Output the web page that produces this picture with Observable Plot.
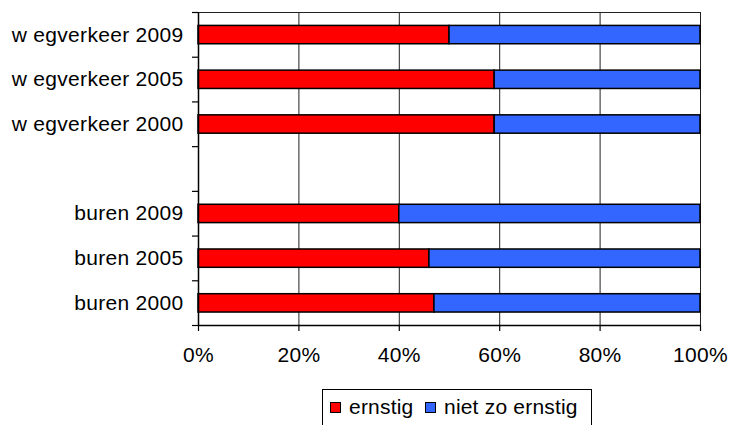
<!DOCTYPE html>
<html>
<head>
<meta charset="utf-8">
<script src="https://cdn.jsdelivr.net/npm/d3@7"></script>
<script src="https://cdn.jsdelivr.net/npm/@observablehq/plot@0.6"></script>
<style>
  html, body { margin: 0; padding: 0; background: #fff; overflow: hidden; }
  #wrap { position: relative; width: 729px; height: 425px; font-family: "Liberation Sans", Arial, sans-serif; }
  #legend { position: absolute; left: 322px; top: 389px; width: 270px; height: 40px; border: 1px solid #000; background: #fff; box-sizing: border-box; font-size: 21px; letter-spacing: 0.2px; color: #000; }
  .item { position: absolute; top: 5px; white-space: nowrap; }
  .sw { display: inline-block; width: 9px; height: 9px; border: 1.5px solid #000; margin-right: 8px; vertical-align: 1px; }
</style>
</head>
<body>
<div id="wrap"><div id="chart"></div><div id="legend"></div></div>
<script>
const categories = ["w egverkeer 2009", "w egverkeer 2005", "w egverkeer 2000", "", "buren 2009", "buren 2005", "buren 2000"];
const ernstig = [50, 59, 59, null, 40, 46, 47];
const nietZoErnstig = [50, 41, 41, null, 60, 54, 53];
const xTicks = [0, 20, 40, 60, 80, 100];
const seriesNames = ["ernstig", "niet zo ernstig"];
const seriesColors = ["#FF0000", "#3366FF"];

const rows = categories.map((c, i) => ({cat: c, i, e: ernstig[i], n: nietZoErnstig[i]})).filter(d => d.e != null);
const boundaries = d3.range(categories.length + 1);
const centers = categories.map((c, i) => i + 0.5);

const chart = Plot.plot({
  width: 729,
  height: 380,
  marginLeft: 198,
  marginRight: 29,
  marginTop: 12,
  marginBottom: 55,
  style: {fontFamily: "'Liberation Sans', Arial, sans-serif", fontSize: "21px", letterSpacing: "0.3px", color: "#000", background: "#fff"},
  x: {domain: [0, 100]},
  y: {domain: [0, categories.length], reverse: true},
  marks: [
    Plot.ruleX(xTicks.slice(1), {stroke: "#222", strokeWidth: 1}),
    Plot.ruleY([0], {stroke: "#222", strokeWidth: 1}),
    Plot.rectX(rows, {x1: 0, x2: d => d.e, y1: d => d.i + 0.3, y2: d => d.i + 0.71, fill: seriesColors[0], stroke: "#000", strokeWidth: 1.5}),
    Plot.rectX(rows, {x1: d => d.e, x2: d => d.e + d.n, y1: d => d.i + 0.3, y2: d => d.i + 0.71, fill: seriesColors[1], stroke: "#000", strokeWidth: 1.5}),
    Plot.ruleX([0], {stroke: "#000", strokeWidth: 1.5}),
    Plot.ruleY([categories.length], {stroke: "#000", strokeWidth: 1.5}),
    Plot.axisY({ticks: boundaries, tickSize: 6, tickFormat: () => "", stroke: "#000", strokeWidth: 1.2}),
    Plot.axisY({ticks: centers, tickSize: 0, tickPadding: 15, tickFormat: d => categories[Math.floor(d)]}),
    Plot.axisX({ticks: xTicks, tickSize: 6, tickPadding: 16, tickFormat: d => d + "%", stroke: "#000", strokeWidth: 1.2})
  ]
});
document.getElementById("chart").appendChild(chart);

const legend = document.getElementById("legend");
const lx = [7, 102];
seriesNames.forEach((name, k) => {
  const it = document.createElement("div");
  it.className = "item";
  it.style.left = lx[k] + "px";
  it.innerHTML = `<span class="sw" style="background:${seriesColors[k]}"></span>${name}`;
  legend.appendChild(it);
});
</script>
</body>
</html>
